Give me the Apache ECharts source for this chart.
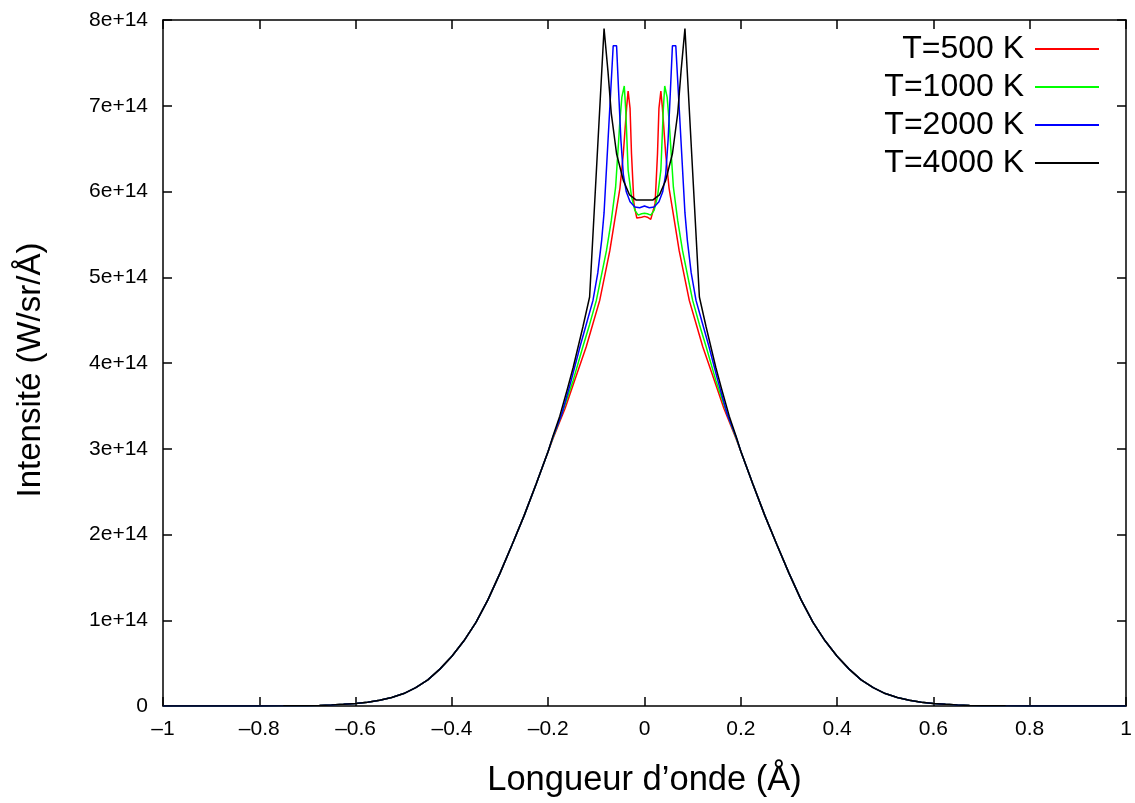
<!DOCTYPE html>
<html>
<head>
<meta charset="utf-8">
<script src="https://cdn.jsdelivr.net/npm/echarts@6/dist/echarts.min.js"></script>
<style>
html,body{margin:0;padding:0;background:#fff;}
#chart{width:1135px;height:803px;}
</style>
</head>
<body>
<div id="chart"></div>
<script>
// Values in units of 1e14 W/sr/Å
const seriesNames = ['T=500 K', 'T=1000 K', 'T=2000 K', 'T=4000 K'];
const seriesColors = ['#ff0000', '#00ff00', '#0000ff', '#000000'];

// Shared far wings (all temperatures coincide there)
const wingLeftX = [-1.0, -0.9, -0.8, -0.75, -0.7, -0.675, -0.65, -0.625, -0.6, -0.575, -0.55, -0.525, -0.5, -0.475, -0.45, -0.425,
                   -0.4, -0.375, -0.35, -0.325, -0.3, -0.275, -0.25, -0.225, -0.2];
const wingLeftY = [0, 0, 0.001, 0.002, 0.004, 0.007, 0.012, 0.019, 0.030, 0.045, 0.068, 0.10, 0.145, 0.215, 0.305, 0.43,
                   0.58, 0.76, 0.975, 1.24, 1.55, 1.88, 2.22, 2.59, 2.97];
const wingRightX = [0.2, 0.225, 0.25, 0.275, 0.3, 0.325, 0.35, 0.375, 0.4, 0.425, 0.45, 0.475, 0.5, 0.525, 0.55, 0.575,
                    0.6, 0.625, 0.65, 0.675, 0.7, 0.75, 0.8, 0.9, 1.0];
const wingRightY = [2.97, 2.59, 2.22, 1.88, 1.55, 1.24, 0.975, 0.76, 0.58, 0.43, 0.305, 0.215, 0.145, 0.10, 0.068, 0.045,
                    0.030, 0.019, 0.012, 0.007, 0.004, 0.002, 0.001, 0, 0];

// Line cores
const red500X = [-0.19, -0.178, -0.165, -0.143, -0.121, -0.107, -0.093, -0.072, -0.062, -0.051, -0.044, -0.037, -0.034, -0.030, -0.027, -0.022, -0.016, -0.013, -0.006, 0,
                 0.006, 0.013, 0.016, 0.022, 0.027, 0.030, 0.034, 0.037, 0.044, 0.051, 0.062, 0.072, 0.093, 0.107, 0.121, 0.143, 0.165, 0.178, 0.19];
const red500Y = [3.12, 3.29, 3.47, 3.83, 4.19, 4.46, 4.73, 5.31, 5.66, 6.04, 6.44, 6.99, 7.17, 6.97, 6.44, 5.86, 5.69, 5.675, 5.70, 5.71,
                 5.70, 5.675, 5.69, 5.86, 6.44, 6.97, 7.17, 6.99, 6.44, 6.04, 5.66, 5.31, 4.73, 4.46, 4.19, 3.83, 3.47, 3.29, 3.12];

const green1000X = [-0.19, -0.178, -0.169, -0.148, -0.128, -0.114, -0.100, -0.079, -0.069, -0.060, -0.051, -0.047, -0.042, -0.039, -0.034, -0.027, -0.020, -0.013, -0.006, 0,
                    0.006, 0.013, 0.020, 0.027, 0.034, 0.039, 0.042, 0.047, 0.051, 0.060, 0.069, 0.079, 0.100, 0.114, 0.128, 0.148, 0.169, 0.178, 0.19];
const green1000Y = [3.13, 3.31, 3.45, 3.80, 4.19, 4.45, 4.73, 5.31, 5.66, 6.05, 6.83, 7.10, 7.23, 6.95, 6.25, 5.94, 5.78, 5.725, 5.74, 5.745,
                    5.74, 5.725, 5.78, 5.94, 6.25, 6.95, 7.23, 7.10, 6.83, 6.05, 5.66, 5.31, 4.73, 4.45, 4.19, 3.80, 3.45, 3.31, 3.13];

const blue2000X = [-0.19, -0.172, -0.152, -0.134, -0.120, -0.107, -0.097, -0.089, -0.084, -0.065, -0.058, -0.054, -0.049, -0.044, -0.038, -0.030, -0.020, -0.010, 0,
                   0.010, 0.020, 0.030, 0.038, 0.044, 0.049, 0.054, 0.058, 0.065, 0.084, 0.089, 0.097, 0.107, 0.120, 0.134, 0.152, 0.172, 0.19];
const blue2000Y = [3.14, 3.40, 3.80, 4.19, 4.47, 4.73, 5.05, 5.43, 5.75, 7.70, 7.70, 7.20, 6.60, 6.20, 6.00, 5.88, 5.82, 5.81, 5.83,
                   5.81, 5.82, 5.88, 6.00, 6.20, 6.60, 7.20, 7.70, 7.70, 5.75, 5.43, 5.05, 4.73, 4.47, 4.19, 3.80, 3.40, 3.14];

const black4000X = [-0.19, -0.176, -0.16, -0.148, -0.128, -0.114, -0.084, -0.076, -0.069, -0.058, -0.044, -0.031, -0.017, 0,
                    0.017, 0.031, 0.044, 0.058, 0.069, 0.076, 0.084, 0.114, 0.128, 0.148, 0.16, 0.176, 0.19];
const black4000Y = [3.15, 3.38, 3.70, 3.95, 4.42, 4.77, 7.90, 7.41, 6.91, 6.44, 6.13, 5.96, 5.90, 5.90,
                    5.90, 5.96, 6.13, 6.44, 6.91, 7.41, 7.90, 4.77, 4.42, 3.95, 3.70, 3.38, 3.15];

const coresX = [red500X, green1000X, blue2000X, black4000X];
const coresY = [red500Y, green1000Y, blue2000Y, black4000Y];

function buildData(cx, cy) {
  const pts = [];
  wingLeftX.forEach((x, i) => pts.push([x, wingLeftY[i]]));
  cx.forEach((x, i) => pts.push([x, cy[i]]));
  wingRightX.forEach((x, i) => pts.push([x, wingRightY[i]]));
  return pts;
}

const FONT = '"Liberation Sans", Arial, sans-serif';
const fmtX = v => { const s = String(+v.toFixed(1)); return s.replace('-', '\u2013'); };
const fmtY = v => v === 0 ? '0' : (+v.toFixed(0)) + 'e+14';

const axisLineStyle = { color: '#000', width: 1.5 };
const tickStyle = { show: true, inside: true, length: 9, lineStyle: { color: '#000', width: 1.5 } };

const chart = echarts.init(document.getElementById('chart'), null, { renderer: 'canvas' });
chart.setOption({
  animation: false,
  backgroundColor: '#fff',
  textStyle: { fontFamily: FONT },
  grid: { left: 163, right: 9, top: 20, bottom: 97 },
  legend: {
    orient: 'vertical',
    right: 31,
    top: 25,
    align: 'right',
    icon: 'rect',
    itemWidth: 64,
    itemHeight: 2,
    itemGap: 0,
    selectedMode: false,
    textStyle: { fontSize: 32, color: '#000', fontFamily: FONT, lineHeight: 38, padding: [0, 6, 0, 0] },
    data: seriesNames
  },
  xAxis: [{
    type: 'value', min: -1, max: 1, interval: 0.2, position: 'bottom',
    name: 'Longueur d\u2019onde (\u00c5)', nameLocation: 'middle', nameGap: 57,
    nameTextStyle: { fontSize: 34.5, color: '#000', fontFamily: FONT },
    axisLine: { show: true, onZero: false, lineStyle: axisLineStyle },
    axisTick: tickStyle,
    axisLabel: { formatter: fmtX, fontSize: 21, color: '#000', margin: 13, fontFamily: FONT },
    splitLine: { show: false }
  }, {
    type: 'value', min: -1, max: 1, interval: 0.2, position: 'top',
    axisLine: { show: true, onZero: false, lineStyle: axisLineStyle },
    axisTick: tickStyle,
    axisLabel: { show: false },
    splitLine: { show: false }
  }],
  yAxis: [{
    type: 'value', min: 0, max: 8, interval: 1, position: 'left',
    name: 'Intensit\u00e9 (W/sr/\u00c5)', nameLocation: 'middle', nameGap: 116,
    nameTextStyle: { fontSize: 33, color: '#000', fontFamily: FONT, padding: [0, 14, 0, 0] },
    axisLine: { show: true, onZero: false, lineStyle: axisLineStyle },
    axisTick: tickStyle,
    axisLabel: { formatter: fmtY, fontSize: 21, color: '#000', margin: 15, fontFamily: FONT },
    splitLine: { show: false }
  }, {
    type: 'value', min: 0, max: 8, interval: 1, position: 'right',
    axisLine: { show: true, onZero: false, lineStyle: axisLineStyle },
    axisTick: tickStyle,
    axisLabel: { show: false },
    splitLine: { show: false }
  }],
  series: seriesNames.map((name, i) => ({
    name: name,
    type: 'line',
    xAxisIndex: 0,
    yAxisIndex: 0,
    symbol: 'none',
    smooth: false,
    color: seriesColors[i],
    lineStyle: { color: seriesColors[i], width: 1.5 },
    data: buildData(coresX[i], coresY[i])
  }))
});
</script>
</body>
</html>
